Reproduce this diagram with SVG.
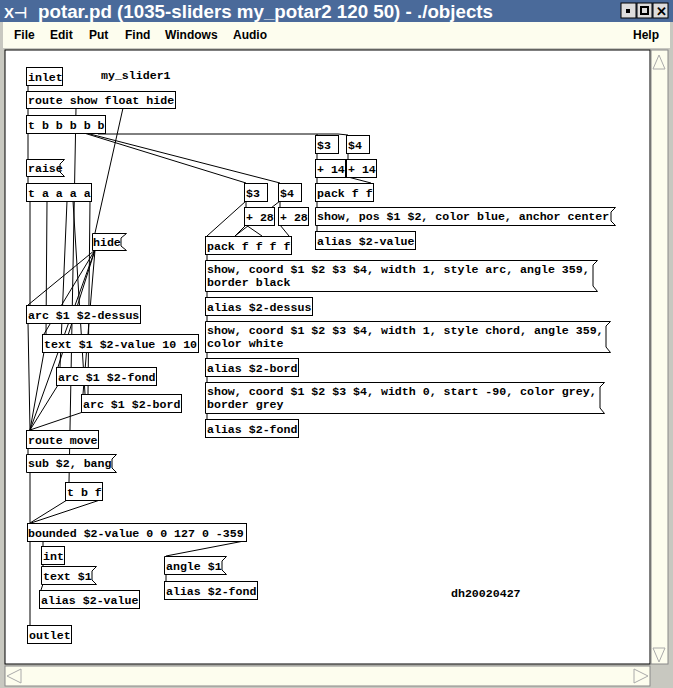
<svg xmlns="http://www.w3.org/2000/svg" width="673" height="688" viewBox="0 0 673 688">
<style>
.b{fill:#fff;stroke:#000;stroke-width:1}
.t{font-family:"Liberation Mono",monospace;font-weight:bold;font-size:11.6px;fill:#000}
.c line,.c polyline{stroke:#000;stroke-width:1;fill:none}
.m{font-family:"Liberation Sans",Arial,sans-serif;font-weight:bold;font-size:12px;fill:#000}
</style>
<rect x="0" y="0" width="673" height="688" fill="#c8c8c0"/>
<rect x="0" y="0" width="673" height="22" fill="#4a6a9a"/>
<text x="4" y="18" font-family="Liberation Sans,sans-serif" font-size="15" font-weight="bold" fill="#fff">X⊣</text>
<text x="38" y="18" font-family="Liberation Sans,sans-serif" font-size="18" font-weight="bold" fill="#fff" textLength="455" lengthAdjust="spacingAndGlyphs">potar.pd  (1035-sliders my_potar2 120 50) - ./objects</text>
<rect x="621" y="3" width="15" height="15" fill="#ddd" stroke="#000"/><rect x="637" y="3" width="15" height="15" fill="#ddd" stroke="#000"/><rect x="653" y="3" width="15" height="15" fill="#ddd" stroke="#000"/>
<rect x="626" y="9" width="4" height="4"/><rect x="641" y="7" width="7" height="7" fill="none" stroke="#000" stroke-width="2"/><text x="656" y="16" font-family="Liberation Sans,sans-serif" font-size="13" font-weight="bold">✕</text>
<rect x="3" y="22" width="667" height="26" fill="#fdfdee"/>
<text class="m" x="14" y="39">File</text><text class="m" x="50" y="39">Edit</text><text class="m" x="89" y="39">Put</text><text class="m" x="125" y="39">Find</text><text class="m" x="165" y="39">Windows</text><text class="m" x="233" y="39">Audio</text><text class="m" x="633" y="39">Help</text>
<rect x="5" y="50" width="645" height="614" fill="#fff" stroke="#000"/>
<rect x="651" y="50" width="17" height="614" fill="#fdfdee" stroke="#888"/>
<rect x="5" y="666" width="645" height="20" fill="#fdfdee" stroke="#888"/>
<polygon points="653,69 659,55 665,69" fill="none" stroke="#aaa"/><polygon points="653,648 659,662 665,648" fill="none" stroke="#aaa"/>
<polygon points="21,669 7,676 21,683" fill="none" stroke="#aaa"/><polygon points="634,669 648,676 634,683" fill="none" stroke="#aaa"/>

<g class="c">
<line x1="28" y1="85" x2="28" y2="91"/><line x1="28" y1="108" x2="28" y2="115"/>
<line x1="76" y1="108" x2="69" y2="482"/>
<line x1="123" y1="108" x2="95" y2="233"/>
<line x1="28" y1="133" x2="28" y2="159"/><line x1="28" y1="176" x2="28" y2="183"/>
<line x1="98" y1="134" x2="338" y2="134"/><line x1="317" y1="134" x2="317" y2="135"/>
<line x1="338" y1="134" x2="348" y2="135"/>
<line x1="84" y1="133" x2="246" y2="183"/><line x1="86" y1="133" x2="280" y2="183"/>
<line x1="30" y1="201" x2="30" y2="305"/><line x1="47" y1="201" x2="46" y2="334"/>
<line x1="67" y1="201" x2="60" y2="367"/><line x1="73" y1="201" x2="85" y2="394"/>
<line x1="90" y1="201" x2="88" y2="394"/>
<line x1="95" y1="250" x2="28" y2="305"/><line x1="95" y1="250" x2="44" y2="334"/>
<line x1="95" y1="250" x2="58" y2="367"/><line x1="95" y1="250" x2="83" y2="394"/>
<line x1="28" y1="323" x2="30" y2="430"/><line x1="44" y1="352" x2="30" y2="430"/>
<line x1="58" y1="385" x2="30" y2="430"/><line x1="83" y1="412" x2="30" y2="430"/>
<line x1="95" y1="250" x2="30" y2="430"/>
<line x1="28" y1="448" x2="28" y2="454"/><line x1="30" y1="472" x2="30" y2="523"/>
<line x1="67" y1="500" x2="30" y2="523"/><line x1="100" y1="500" x2="31" y2="523"/>
<line x1="30" y1="541" x2="30" y2="625"/><line x1="43" y1="541" x2="43" y2="546"/>
<line x1="244" y1="541" x2="166" y2="556"/>
<line x1="43" y1="564" x2="43" y2="566"/><line x1="43" y1="584" x2="41" y2="590"/>
<line x1="166" y1="574" x2="166" y2="581"/>
<line x1="317" y1="153" x2="317" y2="159"/><line x1="348" y1="153" x2="348" y2="159"/>
<line x1="317" y1="177" x2="317" y2="183"/><line x1="348" y1="177" x2="371" y2="183"/>
<line x1="317" y1="201" x2="317" y2="207"/><line x1="317" y1="225" x2="317" y2="231"/>
<line x1="246" y1="201" x2="246" y2="207"/><line x1="246" y1="201" x2="207" y2="236"/>
<line x1="280" y1="201" x2="280" y2="207"/><line x1="280" y1="201" x2="235" y2="236"/>
<line x1="246" y1="225" x2="235" y2="236"/><line x1="246" y1="225" x2="262" y2="236"/>
<line x1="280" y1="225" x2="289" y2="236"/>
<line x1="207" y1="254" x2="207" y2="437"/>
</g>

<g id="n1"><rect class="b" x="26.5" y="67.5" width="36" height="18"/><text class="t" x="28" y="81">inlet</text></g>
<g id="c1"><text class="t" x="101" y="79">my_slider1</text></g>
<g id="n2"><rect class="b" x="26.5" y="91.5" width="149" height="17"/><text class="t" x="28" y="104">route show float hide</text></g>
<g id="n3"><rect class="b" x="26.5" y="115.5" width="79" height="18"/><text class="t" x="28" y="129">t b b b b b</text></g>
<g id="n4"><path class="b" d="M26.5 159.5H64.5L60 164V172L64.5 176.5H26.5Z"/><text class="t" x="28" y="172">raise</text></g>
<g id="n5"><rect class="b" x="26.5" y="183.5" width="65" height="18"/><text class="t" x="28" y="197">t a a a a</text></g>
<g id="n6"><path class="b" d="M92.5 233.5H126.5L121 238V246L126.5 250.5H92.5Z"/><text class="t" x="93" y="246">hide</text></g>
<g id="n7"><rect class="b" x="26.5" y="305.5" width="114" height="18"/><text class="t" x="28" y="319">arc $1 $2-dessus</text></g>
<g id="n8"><rect class="b" x="42.5" y="334.5" width="156" height="18"/><text class="t" x="44" y="348">text $1 $2-value 10 10</text></g>
<g id="n9"><rect class="b" x="56.5" y="367.5" width="100" height="18"/><text class="t" x="58" y="381">arc $1 $2-fond</text></g>
<g id="n10"><rect class="b" x="81.5" y="394.5" width="100" height="18"/><text class="t" x="83" y="408">arc $1 $2-bord</text></g>
<g id="n11"><rect class="b" x="26.5" y="430.5" width="72" height="18"/><text class="t" x="28" y="444">route move</text></g>
<g id="n12"><path class="b" d="M26.5 454.5H116.5L112 459V468L116.5 472.5H26.5Z"/><text class="t" x="28" y="467">sub $2, bang</text></g>
<g id="n13"><rect class="b" x="65.5" y="482.5" width="37" height="18"/><text class="t" x="67" y="496">t b f</text></g>
<g id="n14"><rect class="b" x="27.5" y="523.5" width="219" height="18"/><text class="t" x="28" y="537">bounded $2-value 0 0 127 0 -359</text></g>
<g id="n15"><rect class="b" x="41.5" y="546.5" width="23" height="18"/><text class="t" x="43" y="560">int</text></g>
<g id="n16"><path class="b" d="M41.5 566.5H96.5L92 571V580L96.5 584.5H41.5Z"/><text class="t" x="43" y="580">text $1</text></g>
<g id="n17"><rect class="b" x="39.5" y="590.5" width="100" height="18"/><text class="t" x="41" y="604">alias $2-value</text></g>
<g id="n18"><rect class="b" x="27.5" y="625.5" width="44" height="18"/><text class="t" x="29" y="639">outlet</text></g>
<g id="n19"><path class="b" d="M164.5 556.5H226.5L222 561V570L226.5 574.5H164.5Z"/><text class="t" x="166" y="570">angle $1</text></g>
<g id="n20"><rect class="b" x="164.5" y="581.5" width="93" height="18"/><text class="t" x="166" y="595">alias $2-fond</text></g>
<g id="c2"><text class="t" x="451" y="597">dh20020427</text></g>
<g id="n21"><rect class="b" x="315.5" y="135.5" width="23" height="18"/><text class="t" x="317" y="149">$3</text></g>
<g id="n22"><rect class="b" x="346.5" y="135.5" width="23" height="18"/><text class="t" x="348" y="149">$4</text></g>
<g id="n23"><rect class="b" x="315.5" y="159.5" width="30" height="18"/><text class="t" x="317" y="173">+ 14</text></g>
<g id="n24"><rect class="b" x="346.5" y="159.5" width="30" height="18"/><text class="t" x="348" y="173">+ 14</text></g>
<g id="n25"><rect class="b" x="315.5" y="183.5" width="58" height="18"/><text class="t" x="317" y="197">pack f f</text></g>
<g id="n26"><path class="b" d="M315.5 207.5H615.5L611 212V221L615.5 225.5H315.5Z"/><text class="t" x="317" y="220">show, pos $1 $2, color blue, anchor center</text></g>
<g id="n27"><rect class="b" x="315.5" y="231.5" width="100" height="18"/><text class="t" x="317" y="245">alias $2-value</text></g>
<g id="n28"><rect class="b" x="244.5" y="183.5" width="23" height="18"/><text class="t" x="246" y="197">$3</text></g>
<g id="n29"><rect class="b" x="278.5" y="183.5" width="23" height="18"/><text class="t" x="280" y="197">$4</text></g>
<g id="n30"><rect class="b" x="244.5" y="207.5" width="30" height="18"/><text class="t" x="246" y="221">+ 28</text></g>
<g id="n31"><rect class="b" x="278.5" y="207.5" width="30" height="18"/><text class="t" x="280" y="221">+ 28</text></g>
<g id="n32"><rect class="b" x="205.5" y="236.5" width="86" height="18"/><text class="t" x="207" y="250">pack f f f f</text></g>
<g id="n33"><path class="b" d="M205.5 260.5H597.5L593 265V286L597.5 291.5H205.5Z"/><text class="t" x="207" y="273">show, coord $1 $2 $3 $4, width 1, style arc, angle 359,</text><text class="t" x="207" y="286">border black</text></g>
<g id="n34"><rect class="b" x="205.5" y="297.5" width="107" height="18"/><text class="t" x="207" y="311">alias $2-dessus</text></g>
<g id="n35"><path class="b" d="M205.5 321.5H610.5L606 326V347L610.5 352.5H205.5Z"/><text class="t" x="207" y="334">show, coord $1 $2 $3 $4, width 1, style chord, angle 359,</text><text class="t" x="207" y="347">color white</text></g>
<g id="n36"><rect class="b" x="205.5" y="358.5" width="93" height="18"/><text class="t" x="207" y="372">alias $2-bord</text></g>
<g id="n37"><path class="b" d="M205.5 382.5H604.5L600 387V408L604.5 413.5H205.5Z"/><text class="t" x="207" y="395">show, coord $1 $2 $3 $4, width 0, start -90, color grey,</text><text class="t" x="207" y="408">border grey</text></g>
<g id="n38"><rect class="b" x="205.5" y="419.5" width="93" height="18"/><text class="t" x="207" y="433">alias $2-fond</text></g>
</svg>
